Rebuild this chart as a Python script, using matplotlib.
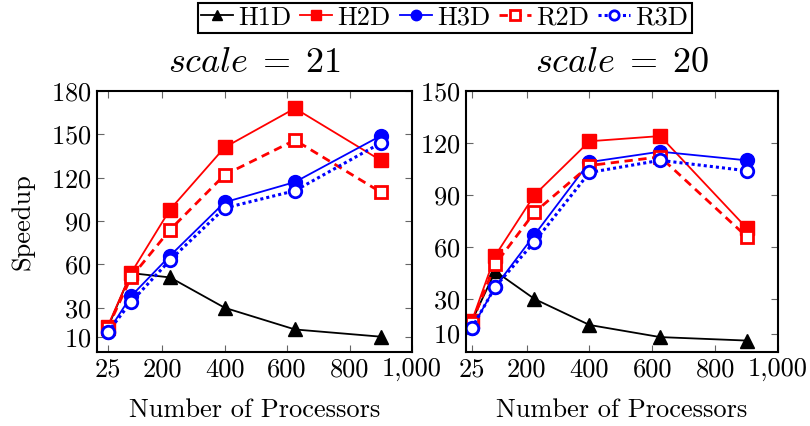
import matplotlib
matplotlib.use('Agg')
import matplotlib.pyplot as plt
from matplotlib.ticker import FuncFormatter

plt.rcParams['font.family'] = 'serif'
plt.rcParams['font.serif'] = ['cmr10']
plt.rcParams['mathtext.fontset'] = 'cm'
plt.rcParams['axes.formatter.use_mathtext'] = True

procs = [25, 100, 225, 400, 625, 900]

# scale = 21
h1d_21 = [16, 54, 51, 30, 15, 10]
h2d_21 = [17, 54, 98, 141, 168, 132]
h3d_21 = [13, 38, 66, 103, 117, 149]
r2d_21 = [16, 51, 84, 122, 146, 110]
r3d_21 = [13, 34, 63, 99, 111, 144]

# scale = 20
h1d_20 = [17, 46, 30, 15, 8, 6]
h2d_20 = [17, 55, 90, 121, 124, 71]
h3d_20 = [13, 37, 67, 109, 115, 110]
r2d_20 = [16, 50, 80, 107, 112, 66]
r3d_20 = [13, 37, 63, 103, 110, 104]

xticks = [25, 200, 400, 600, 800, 1000]
yticks_21 = [10, 30, 60, 90, 120, 150, 180]
yticks_20 = [10, 30, 60, 90, 120, 150]

fig = plt.figure(figsize=(8.1, 4.26), dpi=100)
ax1 = fig.add_axes([97 / 810, 74 / 426, 315 / 810, 261 / 426])
ax2 = fig.add_axes([466 / 810, 74 / 426, 312 / 810, 261 / 426])


def draw(ax, h1d, h2d, h3d, r2d, r3d):
    ax.plot(procs, h1d, color='black', lw=1.3, marker='^', ms=10, label='H1D')
    ax.plot(procs, h2d, color='red', lw=1.3, marker='s', ms=10.5, label='H2D')
    ax.plot(procs, h3d, color='blue', lw=1.3, marker='o', ms=10, label='H3D')
    ax.plot(procs, r2d, color='red', lw=2, ls=(0, (3, 2)), marker='s', ms=9,
            mfc='white', mew=2, label='R2D')
    ax.plot(procs, r3d, color='blue', lw=2.2, ls=(0, (1, 1)), marker='o', ms=9,
            mfc='white', mew=2, label='R3D')


draw(ax1, h1d_21, h2d_21, h3d_21, r2d_21, r3d_21)
draw(ax2, h1d_20, h2d_20, h3d_20, r2d_20, r3d_20)

fmt = FuncFormatter(lambda v, p: '{:,}'.format(int(v)))
for ax, yt, title in [(ax1, yticks_21, r'$scale\;=\;21$'), (ax2, yticks_20, r'$scale\;=\;20$')]:
    ax.set_xticks(xticks)
    ax.xaxis.set_major_formatter(fmt)
    ax.set_yticks(yt)
    ax.set_ylim(-0.6, yt[-1])
    ax.tick_params(direction='in', top=True, right=True, labelsize=19, length=5,
                   color='0.4', width=0.8, pad=4)
    ax.set_xlabel('Number of Processors', fontsize=19, labelpad=12)
    ax.set_title(title, fontsize=26, pad=14)
    for s in ax.spines.values():
        s.set_linewidth(1.5)

ax1.set_xlim(-9, 1000)
ax2.set_xlim(7, 1000)
ax1.set_ylabel('Speedup', fontsize=19, labelpad=12)

handles, labels = ax1.get_legend_handles_labels()
leg = fig.legend(handles, labels, loc='upper center', bbox_to_anchor=(0.549, 1.0),
                 ncol=5, fontsize=19, frameon=True, fancybox=False, edgecolor='black',
                 framealpha=1, handlelength=1.2, handletextpad=0.2, columnspacing=0.35,
                 borderpad=0.12, borderaxespad=0.1, markerscale=0.75)
leg.get_frame().set_linewidth(1.5)

fig.savefig('out.png', dpi=100)
